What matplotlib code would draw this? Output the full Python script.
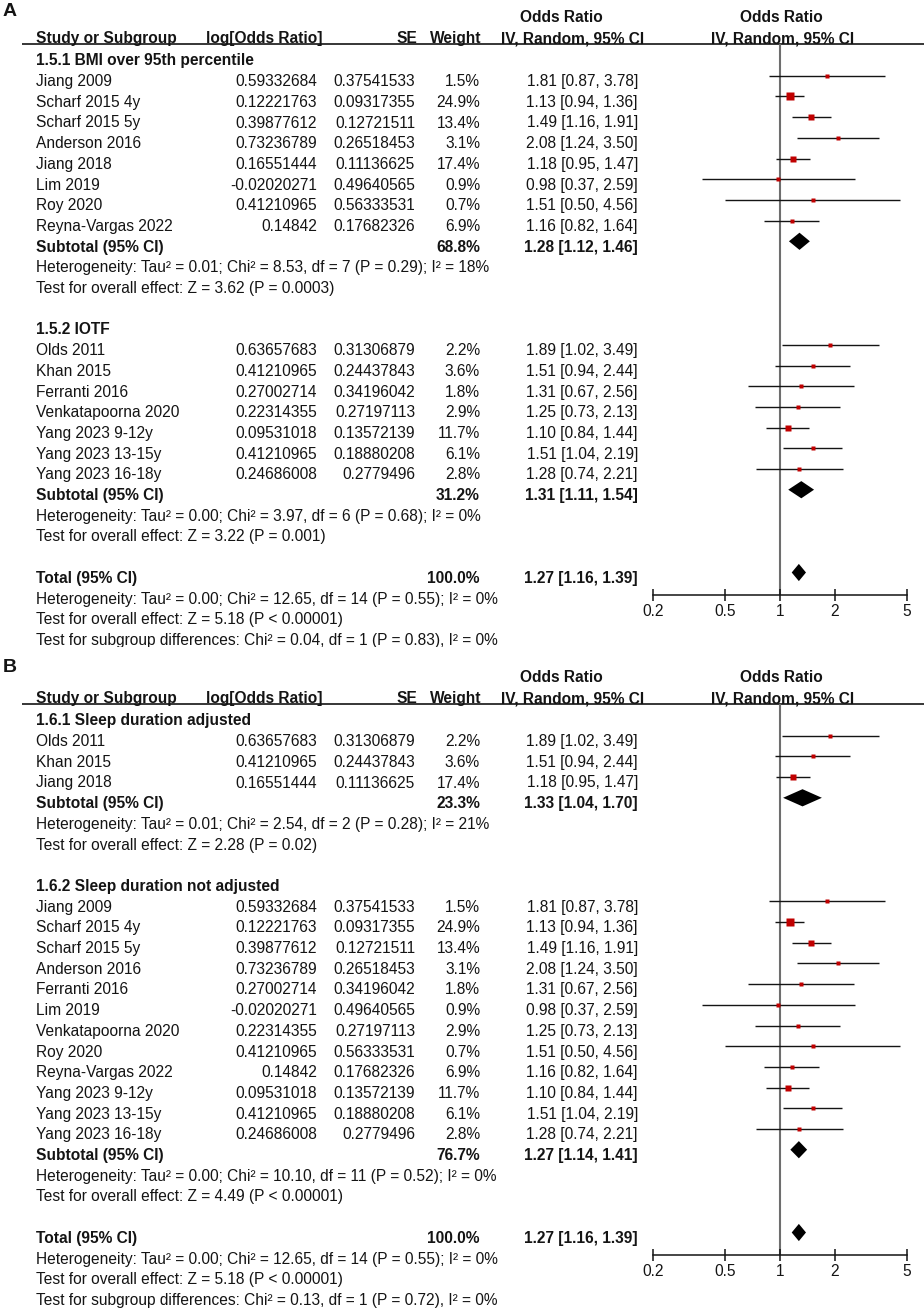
import matplotlib
matplotlib.use("Agg")
import matplotlib.pyplot as plt
from matplotlib.ticker import NullLocator
from matplotlib.patches import Rectangle

plt.rcParams['font.family'] = ['Liberation Sans', 'DejaVu Sans']

# ---------------- data ----------------
study_names = ["Jiang 2009", "Scharf 2015 4y", "Scharf 2015 5y", "Anderson 2016", "Jiang 2018",
               "Lim 2019", "Roy 2020", "Reyna-Vargas 2022", "Olds 2011", "Khan 2015",
               "Ferranti 2016", "Venkatapoorna 2020", "Yang 2023 9-12y", "Yang 2023 13-15y",
               "Yang 2023 16-18y"]
study_logor = ["0.59332684", "0.12221763", "0.39877612", "0.73236789", "0.16551444",
               "-0.02020271", "0.41210965", "0.14842", "0.63657683", "0.41210965",
               "0.27002714", "0.22314355", "0.09531018", "0.41210965", "0.24686008"]
study_se = ["0.37541533", "0.09317355", "0.12721511", "0.26518453", "0.11136625",
            "0.49640565", "0.56333531", "0.17682326", "0.31306879", "0.24437843",
            "0.34196042", "0.27197113", "0.13572139", "0.18880208", "0.2779496"]
study_weight = [1.5, 24.9, 13.4, 3.1, 17.4, 0.9, 0.7, 6.9, 2.2, 3.6, 1.8, 2.9, 11.7, 6.1, 2.8]
study_or = [1.81, 1.13, 1.49, 2.08, 1.18, 0.98, 1.51, 1.16, 1.89, 1.51, 1.31, 1.25, 1.10, 1.51, 1.28]
study_lo = [0.87, 0.94, 1.16, 1.24, 0.95, 0.37, 0.50, 0.82, 1.02, 0.94, 0.67, 0.73, 0.84, 1.04, 0.74]
study_hi = [3.78, 1.36, 1.91, 3.50, 1.47, 2.59, 4.56, 1.64, 3.49, 2.44, 2.56, 2.13, 1.44, 2.19, 2.21]

# Panel A
a_titles = ["1.5.1 BMI over 95th percentile", "1.5.2 IOTF"]
a_members = [["Jiang 2009", "Scharf 2015 4y", "Scharf 2015 5y", "Anderson 2016", "Jiang 2018",
              "Lim 2019", "Roy 2020", "Reyna-Vargas 2022"],
             ["Olds 2011", "Khan 2015", "Ferranti 2016", "Venkatapoorna 2020", "Yang 2023 9-12y",
              "Yang 2023 13-15y", "Yang 2023 16-18y"]]
a_sub_weight = [68.8, 31.2]
a_sub_or = [1.28, 1.31]
a_sub_lo = [1.12, 1.11]
a_sub_hi = [1.46, 1.54]
a_het = ["Heterogeneity: Tau² = 0.01; Chi² = 8.53, df = 7 (P = 0.29); I² = 18%",
         "Heterogeneity: Tau² = 0.00; Chi² = 3.97, df = 6 (P = 0.68); I² = 0%"]
a_test = ["Test for overall effect: Z = 3.62 (P = 0.0003)",
          "Test for overall effect: Z = 3.22 (P = 0.001)"]
a_subgroup = "Test for subgroup differences: Chi² = 0.04, df = 1 (P = 0.83), I² = 0%"

# Panel B
b_titles = ["1.6.1 Sleep duration adjusted", "1.6.2 Sleep duration not adjusted"]
b_members = [["Olds 2011", "Khan 2015", "Jiang 2018"],
             ["Jiang 2009", "Scharf 2015 4y", "Scharf 2015 5y", "Anderson 2016", "Ferranti 2016",
              "Lim 2019", "Venkatapoorna 2020", "Roy 2020", "Reyna-Vargas 2022", "Yang 2023 9-12y",
              "Yang 2023 13-15y", "Yang 2023 16-18y"]]
b_sub_weight = [23.3, 76.7]
b_sub_or = [1.33, 1.27]
b_sub_lo = [1.04, 1.14]
b_sub_hi = [1.70, 1.41]
b_het = ["Heterogeneity: Tau² = 0.01; Chi² = 2.54, df = 2 (P = 0.28); I² = 21%",
         "Heterogeneity: Tau² = 0.00; Chi² = 10.10, df = 11 (P = 0.52); I² = 0%"]
b_test = ["Test for overall effect: Z = 2.28 (P = 0.02)",
          "Test for overall effect: Z = 4.49 (P < 0.00001)"]
b_subgroup = "Test for subgroup differences: Chi² = 0.13, df = 1 (P = 0.72), I² = 0%"

# Overall (same in both panels)
total_weight = 100.0
total_or = 1.27
total_lo = 1.16
total_hi = 1.39
total_het = "Heterogeneity: Tau² = 0.00; Chi² = 12.65, df = 14 (P = 0.55); I² = 0%"
total_test = "Test for overall effect: Z = 5.18 (P < 0.00001)"

tick_values = [0.2, 0.5, 1, 2, 5]
tick_labels = ["0.2", "0.5", "1", "2", "5"]

# ---------------- layout ----------------
W, H = 924, 1308
FS = 11.2
TXT = '#141414'
RED = '#c00000'
PITCH = 20.7
FIRST = 60.0
BASE = 5.4          # baseline offset from text centre
MARK_OFF = 5.0      # marks drawn this much above text centre
X_NAME, X_LOG, X_SE, X_W, X_CI = 36, 317, 415, 480, 638
FX0, FX1 = 653, 907
AXIS_REL = FIRST + 25 * PITCH + 17
LINE_REL = 44

fig = plt.figure(figsize=(W / 100, H / 100), dpi=100)
axt = fig.add_axes([0, 0, 1, 1])
axt.set_xlim(0, W)
axt.set_ylim(H, 0)
axt.axis('off')


def txt(x, y, s, ha='left', bold=False, size=FS):
    axt.text(x, y + BASE, s, ha=ha, va='baseline', fontsize=size,
             fontweight='bold' if bold else 'normal', color=TXT)


def fmt_ci(o, l, h):
    return f"{o:.2f} [{l:.2f}, {h:.2f}]"


def draw_panel(off, label, label_y, titles, members, sw, so, sl, sh, het, test, subgrp):
    axt.text(3, label_y, label, ha='left', va='center', fontsize=14,
             fontweight='bold', color=TXT)
    # headers
    txt(561, off + 17, "Odds Ratio", ha='center', bold=True)
    txt(781, off + 17, "Odds Ratio", ha='center', bold=True)
    y2 = off + 38
    txt(X_NAME, y2, "Study or Subgroup", bold=True)
    txt(206, y2, "log[Odds Ratio]", bold=True)
    txt(417, y2, "SE", ha='right', bold=True)
    txt(481, y2, "Weight", ha='right', bold=True)
    txt(573, y2, "IV, Random, 95% CI", ha='center', bold=True)
    txt(783, y2, "IV, Random, 95% CI", ha='center', bold=True)
    axt.plot([22, W], [off + LINE_REL, off + LINE_REL], color=TXT, lw=1.2,
             solid_capstyle='butt')

    axis_y = off + AXIS_REL
    ax = fig.add_axes([FX0 / W, 1 - axis_y / H, (FX1 - FX0) / W,
                       (AXIS_REL - LINE_REL) / H])
    ax.set_xscale('log')
    ax.set_xlim(tick_values[0], tick_values[-1])
    ax.set_ylim(axis_y, off + LINE_REL)
    ax.patch.set_alpha(0)
    for sp in ['left', 'right', 'top']:
        ax.spines[sp].set_visible(False)
    ax.spines['bottom'].set_linewidth(1.1)
    ax.spines['bottom'].set_color(TXT)
    ax.set_yticks([])
    ax.set_xticks(tick_values)
    ax.set_xticklabels(tick_labels)
    ax.xaxis.set_minor_locator(NullLocator())
    ax.tick_params(axis='x', direction='inout', length=8, width=1.1, color=TXT,
                   labelsize=FS, labelcolor=TXT, pad=3)
    ax.axvline(1, color='#6e6e6e', lw=1.5, zorder=1)

    def diamond(y, o, l, h):
        hh = 8.6
        ax.fill([l, o, h, o], [y, y - hh, y, y + hh], color='black', lw=0, zorder=4)

    k = 0
    for g in range(len(titles)):
        y = off + FIRST + PITCH * k
        txt(X_NAME, y, titles[g], bold=True)
        k += 1
        for nm in members[g]:
            i = study_names.index(nm)
            y = off + FIRST + PITCH * k
            txt(X_NAME, y, nm)
            txt(X_LOG, y, study_logor[i], ha='right')
            txt(X_SE, y, study_se[i], ha='right')
            txt(X_W, y, f"{study_weight[i]:.1f}%", ha='right')
            txt(X_CI, y, fmt_ci(study_or[i], study_lo[i], study_hi[i]), ha='right')
            ym = y - MARK_OFF
            ax.plot([study_lo[i], study_hi[i]], [ym, ym], color=TXT, lw=1.0, zorder=2,
                    solid_capstyle='butt')
            side = max(3.3, 8.2 * (study_weight[i] / 24.9) ** 0.5)
            ax.plot([study_or[i]], [ym], marker='s', ms=side * 0.72, color=RED,
                    mec='none', zorder=3)
            k += 1
        y = off + FIRST + PITCH * k
        txt(X_NAME, y, "Subtotal (95% CI)", bold=True)
        txt(X_W, y, f"{sw[g]:.1f}%", ha='right', bold=True)
        txt(X_CI, y, fmt_ci(so[g], sl[g], sh[g]), ha='right', bold=True)
        diamond(y - MARK_OFF, so[g], sl[g], sh[g])
        k += 1
        txt(X_NAME, off + FIRST + PITCH * k, het[g])
        k += 1
        txt(X_NAME, off + FIRST + PITCH * k, test[g])
        k += 2
    y = off + FIRST + PITCH * k
    txt(X_NAME, y, "Total (95% CI)", bold=True)
    txt(X_W, y, f"{total_weight:.1f}%", ha='right', bold=True)
    txt(X_CI, y, fmt_ci(total_or, total_lo, total_hi), ha='right', bold=True)
    diamond(y - MARK_OFF, total_or, total_lo, total_hi)
    k += 1
    txt(X_NAME, off + FIRST + PITCH * k, total_het)
    k += 1
    txt(X_NAME, off + FIRST + PITCH * k, total_test)
    k += 1
    txt(X_NAME, off + FIRST + PITCH * k, subgrp)


draw_panel(0, "A", 11, a_titles, a_members, a_sub_weight, a_sub_or, a_sub_lo, a_sub_hi,
           a_het, a_test, a_subgroup)
draw_panel(660, "B", 667, b_titles, b_members, b_sub_weight, b_sub_or, b_sub_lo, b_sub_hi,
           b_het, b_test, b_subgroup)

# panel A image is cropped just below its last text line
axt.add_patch(Rectangle((0, 646.5), W, 9, facecolor='white', edgecolor='none', zorder=10))

fig.savefig("out.png", dpi=100)
